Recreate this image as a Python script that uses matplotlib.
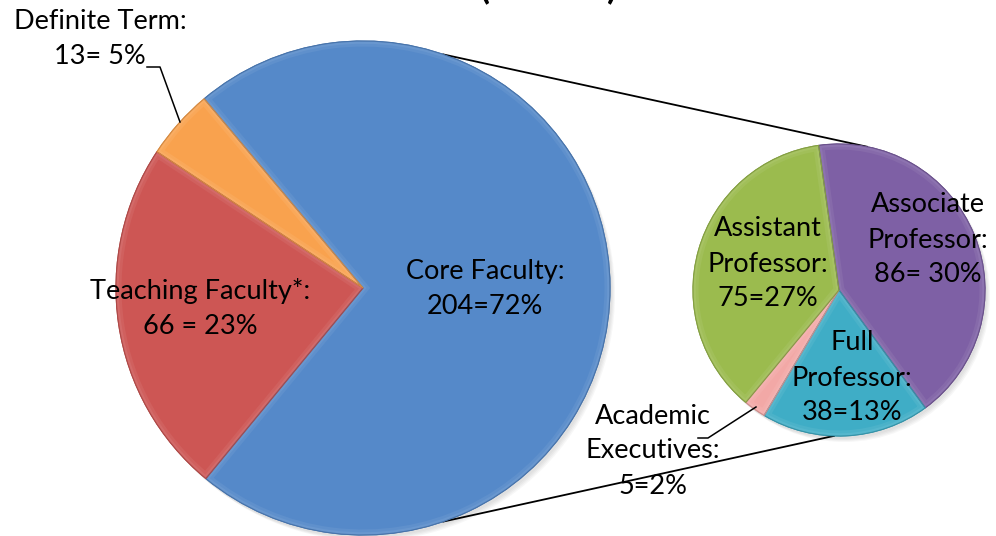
import numpy as np
import matplotlib.pyplot as plt
from matplotlib.patches import Circle, Wedge

# data
main_labels = ["Core Faculty:\n204=72%", "Teaching Faculty*:\n66 = 23%", "Definite Term:\n13= 5%"]
main_counts = [204, 66, 13]
main_colors = ["#5589C9", "#CD5654", "#F9A24E"]

sub_labels = ["Associate\nProfessor:\n86= 30%", "Full\nProfessor:\n38=13%",
              "Academic\nExecutives:\n5=2%", "Assistant\nProfessor:\n75=27%"]
sub_counts = [86, 38, 5, 75]
sub_colors = ["#7E60A5", "#3FADC6", "#F2A8A6", "#9BBB4E"]

W, H = 996, 536
plt.rcParams['font.family'] = ['Lato', 'DejaVu Sans']

fig = plt.figure(figsize=(W / 100, H / 100), dpi=100)
ax = fig.add_axes([0, 0, 1, 1])

big_c, big_r = (363, 248), 247
small_c, small_r = (839, 246), 146


def shade(c, f):
    r, g, b = [int(c[i:i + 2], 16) / 255 for i in (1, 3, 5)]
    if f < 1:
        return (r * f, g * f, b * f)
    f = f - 1
    return (r + (1 - r) * f, g + (1 - g) * f, b + (1 - b) * f)


# soft shadow under the pies
for k in range(4):
    ax.add_patch(Circle((big_c[0] + 2 + k, big_c[1] - 3 - k), big_r, color="#777777", alpha=0.06, zorder=0, lw=0))
    ax.add_patch(Circle((small_c[0] + 2 + k, small_c[1] - 3 - k), small_r, color="#777777", alpha=0.06, zorder=0, lw=0))


def bevel(wedges, colors):
    # faint light rim along the inside of every slice, thin darker border
    for w, c in zip(wedges, colors):
        w.set_edgecolor(shade(c, 0.85))
        for lw, f in [(8, 1.06), (4, 1.12)]:
            rim = Wedge(w.center, w.r, w.theta1, w.theta2, fill=False,
                        edgecolor=shade(c, f), lw=lw, zorder=w.get_zorder() + 0.1)
            ax.add_patch(rim)
            rim.set_clip_path(w)
        edge = Wedge(w.center, w.r, w.theta1, w.theta2, fill=False,
                     edgecolor=shade(c, 0.85), lw=0.8, zorder=w.get_zorder() + 0.2)
        ax.add_patch(edge)


w1, _ = ax.pie(main_counts, colors=main_colors, startangle=130, counterclock=False,
               center=big_c, radius=big_r, wedgeprops=dict(linewidth=0.8))
bevel(w1, main_colors)

w2, _ = ax.pie(sub_counts, colors=sub_colors, startangle=98, counterclock=False,
               center=small_c, radius=small_r, wedgeprops=dict(linewidth=0.8))
bevel(w2, sub_colors)

ax.set_xlim(0, W)
ax.set_ylim(0, H)
ax.set_aspect('equal')
ax.axis('off')


def on_circle(c, r, ang):
    t = np.deg2rad(ang)
    return c[0] + r * np.cos(t), c[1] + r * np.sin(t)


# connector lines between the two pies
for a_big, a_small in [(71, 79), (-71, -92)]:
    p = on_circle(big_c, big_r, a_big)
    q = on_circle(small_c, small_r, a_small)
    ax.plot([p[0], q[0]], [p[1], q[1]], color="black", lw=1.3, zorder=1)

fs = 19.5
txt = dict(ha="center", va="center", fontsize=fs, linespacing=1.5, zorder=5)

# labels, big pie
ax.text(485, H - 289, main_labels[0], **txt)
ax.text(200, H - 308, main_labels[1], **txt)
ax.text(100, H - 39, main_labels[2], **txt)
ax.plot([147, 160, 180], [H - 67, H - 67, H - 122], color="black", lw=1.1, zorder=4)

# labels, small pie
ax.text(928, H - 240, sub_labels[0], **txt)
ax.text(852, H - 378, sub_labels[1], **txt)
ax.text(653, H - 451, sub_labels[2], **txt)
ax.text(768, H - 264, sub_labels[3], **txt)
ax.plot([698, 708, 756], [H - 438, H - 438, H - 407], color="black", lw=1.1, zorder=4)

# title, cut off by the top edge: only the bottoms of its brackets show
for x, s in [(485, "("), (612, ")")]:
    fig.text(x / W, 1.0 + 12 / H, s, ha="center", va="center", fontsize=26, fontweight="bold")

fig.savefig("out.png", dpi=100)
